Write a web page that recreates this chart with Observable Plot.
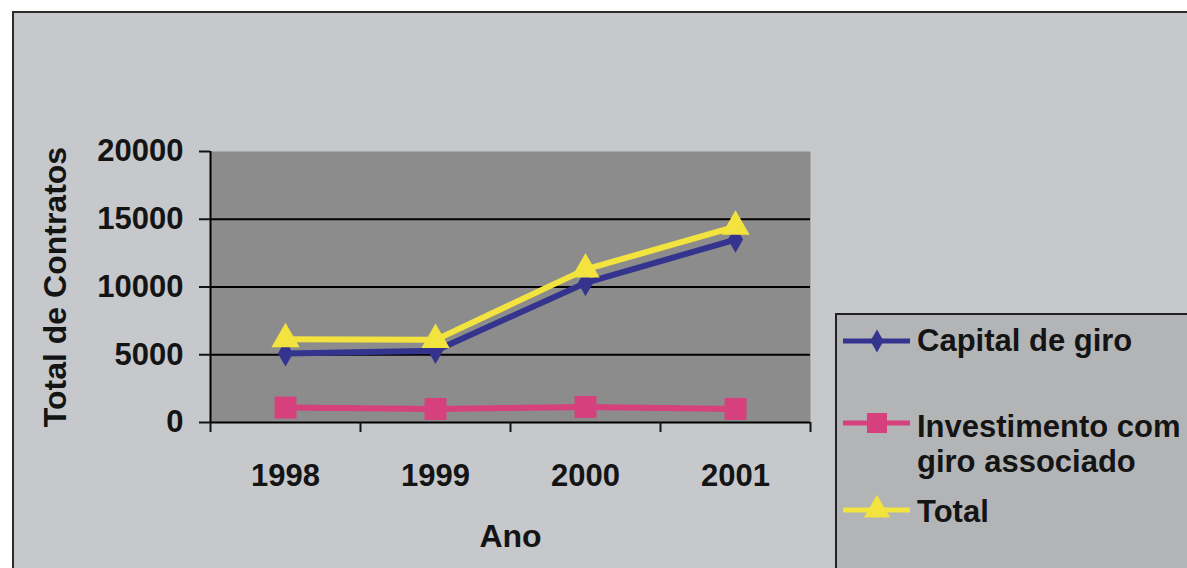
<!DOCTYPE html>
<html>
<head>
<meta charset="utf-8">
<script src="https://cdn.jsdelivr.net/npm/d3@7"></script>
<script src="https://cdn.jsdelivr.net/npm/@observablehq/plot@0.6"></script>
<style>
  html, body { margin: 0; padding: 0; background: #ffffff; width: 1187px; height: 568px; overflow: hidden; }
  #frame { position: absolute; left: 12px; top: 11px; width: 1200px; height: 600px;
           border-left: 2px solid #2b2b2b; border-top: 2px solid #2b2b2b; background: #c6c8cb; }
  #chart { position: absolute; left: 0; top: 0; }
  #legend { position: absolute; left: 0; top: 0; }
</style>
</head>
<body>
<div id="frame"></div>
<div id="chart"></div>
<svg id="legend" width="1187" height="568"></svg>
<script>
const years = [1998, 1999, 2000, 2001];
const capitalDeGiro = [5100, 5300, 10300, 13500];
const investimento = [1100, 1000, 1150, 1000];
const total = [6150, 6100, 11300, 14450];
const yTicks = [0, 5000, 10000, 15000, 20000];
const seriesNames = ["Capital de giro", "Investimento com giro associado", "Total"];
const legendLines = [["Capital de giro"], ["Investimento com", "giro associado"], ["Total"]];
const seriesColors = ["#34348f", "#d6407c", "#f2e33e"];
const seriesSymbols = ["diamond", "square", "triangle"];
const xLabel = "Ano";
const yLabel = "Total de Contratos";

const seriesValues = [capitalDeGiro, investimento, total];
const rows = [];
seriesNames.forEach((s, i) => years.forEach((y, j) => rows.push({series: s, year: y, value: seriesValues[i][j]})));

const symbolR = [8, 12.4, 10.5];
const font = "'Liberation Sans', Arial, Helvetica, sans-serif";

const seriesMarks = seriesNames.flatMap((s, i) => [
  Plot.lineY(rows, {filter: d => d.series === s, x: "year", y: "value", stroke: seriesColors[i], strokeWidth: 6}),
  Plot.dot(rows, {filter: d => d.series === s, x: "year", y: "value", symbol: seriesSymbols[i], fill: seriesColors[i], stroke: "none", r: symbolR[i]})
]);

const boundaries = years.map(y => y - 0.5).concat([years[years.length - 1] + 0.5]);

const chart = Plot.plot({
  width: 1187,
  height: 568,
  marginLeft: 210,
  marginRight: 377,
  marginTop: 151,
  marginBottom: 146,
  style: {background: "transparent", fontFamily: font, fontSize: "31px", fontWeight: "bold", color: "#141414", overflow: "visible"},
  x: {domain: [boundaries[0], boundaries[boundaries.length - 1]], axis: null},
  y: {domain: [0, 20000], axis: null},
  marks: [
    Plot.frame({fill: "#8c8c8c", stroke: "none"}),
    Plot.ruleY(yTicks.slice(1, -1), {stroke: "#000", strokeWidth: 2}),
    Plot.ruleX([boundaries[0]], {y1: 0, y2: 20000, stroke: "#000", strokeWidth: 2}),
    Plot.ruleY([0], {stroke: "#000", strokeWidth: 2}),
    Plot.axisY({ticks: yTicks, tickSize: 11, tickPadding: 16, tickFormat: d => String(d), strokeWidth: 2, label: null, fontSize: 31}),
    Plot.axisX({ticks: boundaries, tickSize: 10, tickFormat: () => "", strokeWidth: 2, label: null}),
    Plot.axisX({ticks: years, tickSize: 0, tickPadding: 41, tickFormat: d => String(d), label: null, fontSize: 31}),
    Plot.text([xLabel], {frameAnchor: "bottom", dy: 114, text: d => d, fontSize: 32, lineAnchor: "middle"}),
    Plot.text([yLabel], {frameAnchor: "left", dx: -155, rotate: -90, text: d => d, fontSize: 32, lineAnchor: "middle", textAnchor: "middle"}),
    ...seriesMarks
  ]
});
document.getElementById("chart").appendChild(chart);

// Legend
const lg = d3.select("#legend");
lg.append("rect").attr("x", 836).attr("y", 314).attr("width", 400).attr("height", 300)
  .attr("fill", "#b3b4b6").attr("stroke", "#222").attr("stroke-width", 2);
const legendY = [341, 423, 510];
const baseY = [[351], [437, 472], [522]];
const legendSym = [d3.symbolDiamond, d3.symbolSquare, d3.symbolTriangle];
const legendSize = [150, 400, 300];
legendLines.forEach((lines, i) => {
  lg.append("line").attr("x1", 843).attr("x2", 910).attr("y1", legendY[i]).attr("y2", legendY[i])
    .attr("stroke", seriesColors[i]).attr("stroke-width", 5);
  lg.append("path").attr("d", d3.symbol(legendSym[i], legendSize[i])())
    .attr("transform", `translate(877,${legendY[i]})`).attr("fill", seriesColors[i]);
  lines.forEach((t, k) => {
    lg.append("text").attr("x", 917).attr("y", baseY[i][k]).text(t)
      .attr("font-family", font).attr("font-size", 31).attr("font-weight", "bold").attr("fill", "#141414");
  });
});
</script>
</body>
</html>
